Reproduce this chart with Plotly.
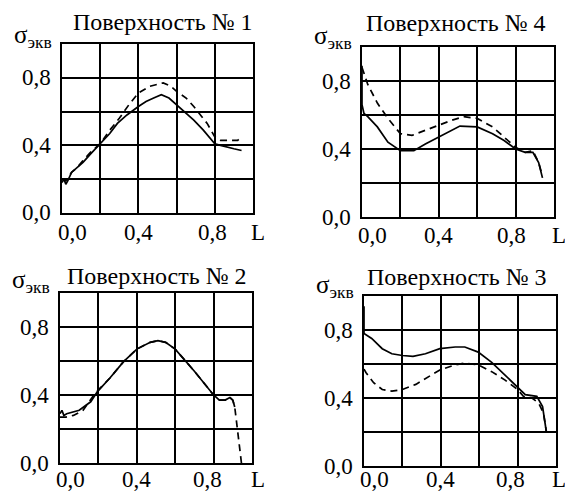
import plotly.graph_objects as go

# ---------------- data ----------------
titles = ["Поверхность № 1", "Поверхность № 4", "Поверхность № 2", "Поверхность № 3"]

# Panel 1 (Поверхность № 1)
p1_solid_L = [0.0, 0.01, 0.02, 0.03, 0.05, 0.08, 0.11, 0.15, 0.2, 0.25, 0.29, 0.34, 0.4, 0.44, 0.48, 0.52, 0.56, 0.6, 0.65, 0.69, 0.74, 0.8, 0.83, 0.86, 0.9, 0.94]
p1_solid_s = [0.18, 0.2, 0.17, 0.19, 0.24, 0.27, 0.30, 0.35, 0.41, 0.47, 0.53, 0.58, 0.63, 0.66, 0.68, 0.70, 0.68, 0.64, 0.59, 0.55, 0.49, 0.41, 0.40, 0.39, 0.38, 0.37]
p1_dash_L = [0.0, 0.02, 0.05, 0.08, 0.11, 0.15, 0.2, 0.25, 0.3, 0.35, 0.4, 0.46, 0.53, 0.57, 0.6, 0.65, 0.69, 0.76, 0.8, 0.83, 0.88, 0.92, 0.94]
p1_dash_s = [0.2, 0.19, 0.24, 0.27, 0.31, 0.36, 0.41, 0.49, 0.56, 0.64, 0.71, 0.75, 0.77, 0.75, 0.72, 0.68, 0.63, 0.53, 0.45, 0.43, 0.43, 0.43, 0.45]

# Panel 2 (Поверхность № 4)
p2_solid_L = [0.0, 0.0, 0.01, 0.03, 0.08, 0.135, 0.2, 0.27, 0.33, 0.4, 0.47, 0.51, 0.6, 0.68, 0.74, 0.8, 0.85, 0.89, 0.92, 0.94]
p2_solid_s = [0.89, 0.66, 0.61, 0.59, 0.53, 0.44, 0.39, 0.39, 0.43, 0.47, 0.51, 0.535, 0.53, 0.49, 0.45, 0.40, 0.38, 0.38, 0.32, 0.23]
p2_dash_L = [0.0, 0.03, 0.08, 0.135, 0.2, 0.26, 0.33, 0.4, 0.47, 0.53, 0.6, 0.68, 0.74, 0.8, 0.85, 0.89, 0.92, 0.94]
p2_dash_s = [0.88, 0.78, 0.67, 0.58, 0.49, 0.48, 0.51, 0.54, 0.57, 0.59, 0.58, 0.53, 0.47, 0.41, 0.38, 0.39, 0.32, 0.24]

# Panel 3 (Поверхность № 2)
p3_solid_L = [0.0, 0.01, 0.02, 0.035, 0.1, 0.16, 0.195, 0.26, 0.33, 0.4, 0.47, 0.51, 0.55, 0.6, 0.7, 0.8, 0.83, 0.86, 0.885, 0.9, 0.91]
p3_solid_s = [0.29, 0.31, 0.28, 0.29, 0.31, 0.36, 0.42, 0.50, 0.595, 0.67, 0.71, 0.72, 0.71, 0.67, 0.54, 0.40, 0.37, 0.37, 0.385, 0.37, 0.33]
p3_dash_L = [0.0, 0.03, 0.07, 0.12, 0.17, 0.2, 0.26, 0.33, 0.4, 0.47, 0.51, 0.55, 0.6, 0.7, 0.8, 0.83, 0.86, 0.885, 0.9, 0.91, 0.925, 0.945]
p3_dash_s = [0.27, 0.27, 0.28, 0.31, 0.39, 0.43, 0.50, 0.595, 0.67, 0.71, 0.72, 0.71, 0.67, 0.54, 0.40, 0.37, 0.37, 0.385, 0.37, 0.33, 0.19, 0.0]

# Panel 4 (Поверхность № 3)
p4_solid_L = [0.0, 0.0, 0.04, 0.095, 0.145, 0.2, 0.255, 0.32, 0.395, 0.475, 0.525, 0.595, 0.665, 0.735, 0.8, 0.84, 0.9, 0.93, 0.95]
p4_solid_s = [0.94, 0.78, 0.75, 0.69, 0.66, 0.65, 0.645, 0.66, 0.69, 0.70, 0.70, 0.67, 0.61, 0.535, 0.46, 0.42, 0.41, 0.35, 0.20]
p4_dash_L = [0.0, 0.01, 0.05, 0.095, 0.145, 0.2, 0.27, 0.34, 0.395, 0.475, 0.525, 0.595, 0.665, 0.735, 0.8, 0.83, 0.875, 0.91, 0.935, 0.95]
p4_dash_s = [0.57, 0.55, 0.49, 0.45, 0.44, 0.45, 0.48, 0.525, 0.565, 0.595, 0.605, 0.595, 0.555, 0.505, 0.45, 0.41, 0.40, 0.37, 0.31, 0.20]

x_tick_values = [0.0, 0.4, 0.8]
x_tick_text = ["0,0", "0,4", "0,8"]
y_tick_values = [0.0, 0.4, 0.8]
y_tick_text = ["0,0", "0,4", "0,8"]
x_axis_name = "L"
y_axis_name = "σ<sub>экв</sub>"

panels = [
    (p1_solid_L, p1_solid_s, p1_dash_L, p1_dash_s),
    (p2_solid_L, p2_solid_s, p2_dash_L, p2_dash_s),
    (p3_solid_L, p3_solid_s, p3_dash_L, p3_dash_s),
    (p4_solid_L, p4_solid_s, p4_dash_L, p4_dash_s),
]

# ---------------- layout ----------------
W, H = 565, 493
# pixel boxes: (left, right, top, bottom)
boxes = [(62, 253, 44, 213), (362, 554, 47, 217), (60, 252, 293, 463), (364, 556, 296, 466)]
title_dx = [5, -2, 1, -3]
title_dy = [7, 9, 2, 4]
sigma_dy = [7, 10, 12, 10]
xlab_dx = [[10, 0, -2], [10, 0, -4], [10, 0, -6], [10, 0, -7]]
xlab_dy = [-19, -19, -16, -13]
lname_dx = [-3, -3, -2, -5]
FONT = "Liberation Serif, Times New Roman, serif"
FS_TICK = 23
FS_TITLE = 24
FS_SIGMA = 25

fig = go.Figure()
layout = dict(
    width=W, height=H, margin=dict(l=0, r=0, t=0, b=0),
    paper_bgcolor="white", plot_bgcolor="white", showlegend=False,
    font=dict(family=FONT, size=FS_TICK, color="black"),
)
annotations = []

for i, (sL, ss, dL, ds) in enumerate(panels):
    n = "" if i == 0 else str(i + 1)
    xa, ya = "x" + n, "y" + n
    l, r, t, b = boxes[i]
    axis_common = dict(range=[0, 1], dtick=0.2, tick0=0, showgrid=True, gridcolor="black",
                       gridwidth=1.8, showline=True, linecolor="black", linewidth=2,
                       mirror=True, showticklabels=False, ticks="", zeroline=False, fixedrange=True)
    layout["xaxis" + n] = dict(domain=[l / W, r / W], anchor=ya, **axis_common)
    layout["yaxis" + n] = dict(domain=[1 - b / H, 1 - t / H], anchor=xa, **axis_common)
    fig.add_trace(go.Scatter(x=sL, y=ss, xaxis=xa, yaxis=ya, mode="lines",
                             line=dict(color="black", width=1.7), hoverinfo="skip"))
    fig.add_trace(go.Scatter(x=dL, y=ds, xaxis=xa, yaxis=ya, mode="lines",
                             line=dict(color="black", width=1.7, dash="7px,5px"), hoverinfo="skip"))
    # title
    annotations.append(dict(text=titles[i], x=0.5, y=1, xref=xa + " domain", yref=ya + " domain",
                            xanchor="center", yanchor="bottom", xshift=title_dx[i], yshift=title_dy[i],
                            showarrow=False, font=dict(size=FS_TITLE)))
    # y axis name
    annotations.append(dict(text=y_axis_name, x=0, y=1, xref=xa + " domain", yref=ya + " domain",
                            xanchor="right", yanchor="middle", xshift=-8, yshift=sigma_dy[i],
                            showarrow=False, font=dict(size=FS_SIGMA)))
    # x axis name
    annotations.append(dict(text=x_axis_name, x=1, y=0, xref=xa + " domain", yref=ya + " domain",
                            xanchor="left", yanchor="middle", xshift=lname_dx[i], yshift=xlab_dy[i],
                            borderpad=0, showarrow=False, font=dict(size=FS_TICK)))
    for k, (v, txt) in enumerate(zip(x_tick_values, x_tick_text)):
        annotations.append(dict(text=txt, x=v, y=0, xref=xa, yref=ya + " domain",
                                xanchor="center", yanchor="middle", xshift=xlab_dx[i][k], yshift=xlab_dy[i],
                                borderpad=0, showarrow=False, font=dict(size=FS_TICK)))
    for v, txt in zip(y_tick_values, y_tick_text):
        annotations.append(dict(text=txt, x=0, y=v, xref=xa + " domain", yref=ya,
                                xanchor="right", yanchor="middle", xshift=-9, showarrow=False,
                                font=dict(size=FS_TICK)))

layout["annotations"] = annotations
fig.update_layout(**layout)
fig.write_html("out.html", config={"displayModeBar": False},
               post_script="document.body.style.margin='0';document.body.style.padding='0';")
